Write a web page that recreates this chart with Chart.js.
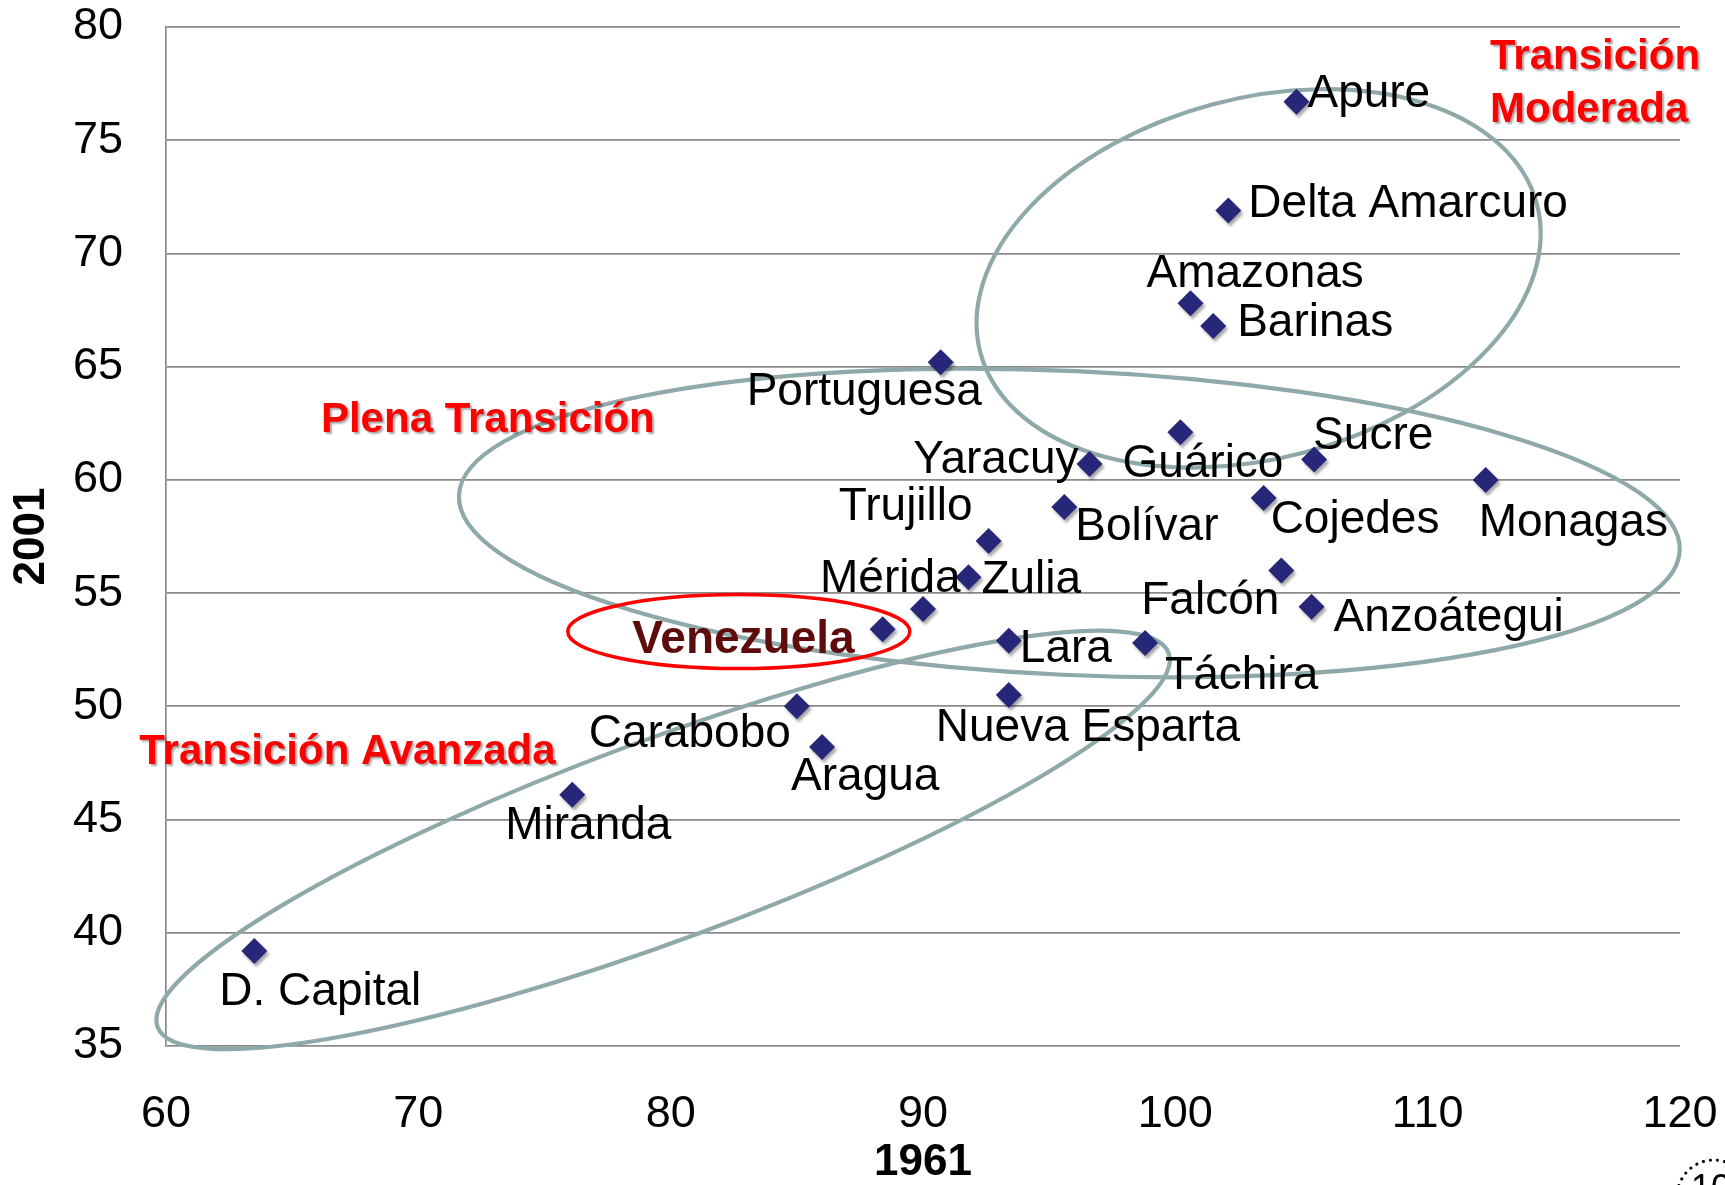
<!DOCTYPE html>
<html>
<head>
<meta charset="utf-8">
<script src="https://cdn.jsdelivr.net/npm/chart.js@4.4.1/dist/chart.umd.min.js"></script>
<style>
html,body{margin:0;padding:0;background:#fff;overflow:hidden}
canvas{display:block}
</style>
</head>
<body>
<canvas id="c" width="1725" height="1185" style="width:1725px;height:1185px"></canvas>
<script>
// ---- data ----
const states = ['Apure','Delta Amarcuro','Amazonas','Barinas','Portuguesa','Guárico','Sucre','Yaracuy','Monagas','Bolívar','Cojedes','Trujillo','Zulia','Mérida','Falcón','Anzoátegui','Venezuela','Lara','Táchira','Nueva Esparta','Carabobo','Aragua','Miranda','D. Capital'];
const values1961 = [104.8,102.1,100.6,101.5,90.7,100.2,105.5,96.6,112.3,95.6,103.5,92.6,91.8,90.0,104.2,105.4,88.4,93.4,98.8,93.4,85.0,86.0,76.1,63.5];
const values2001 = [76.7,71.9,67.8,66.8,65.2,62.1,60.9,60.7,60.0,58.8,59.2,57.3,55.7,54.3,56.0,54.4,53.4,52.9,52.8,50.5,50.0,48.2,46.1,39.2];
const xTickValues = [60,70,80,90,100,110,120];
const yTickValues = [35,40,45,50,55,60,65,70,75,80];
const xTitle = '1961';
const yTitle = '2001';
const groupLabels = [
  {text:'Transición', x:112.47, y:78.66},
  {text:'Moderada', x:112.47, y:76.32},
  {text:'Plena Transición', x:66.14, y:62.63},
  {text:'Transición Avanzada', x:58.94, y:47.98}
];
const slideNumber = '10';

// ---- styles (label offsets in px relative to the point) ----
const labelStyle = {
  'Apure':[11,-7,'left'], 'Delta Amarcuro':[20,-6,'left'], 'Amazonas':[-44,-29,'left'],
  'Barinas':[24,-3,'left'], 'Portuguesa':[-194,30,'left'], 'Guárico':[-58,32,'left'],
  'Sucre':[-1,-23,'left'], 'Yaracuy':[-11,-4,'right'], 'Monagas':[-7,43,'left'],
  'Bolívar':[11,20,'left'], 'Cojedes':[7,22,'left'], 'Trujillo':[-16,-34,'right'],
  'Zulia':[13,3,'left'], 'Mérida':[-103,-30,'left'], 'Falcón':[-2,31,'right'],
  'Anzoátegui':[22,12,'left'], 'Venezuela':[-28,11,'right'], 'Lara':[11,9,'left'],
  'Táchira':[20,33,'left'], 'Nueva Esparta':[-73,33,'left'], 'Carabobo':[-6,28,'right'],
  'Aragua':[-31,30,'left'], 'Miranda':[-67,32,'left'], 'D. Capital':[-35,41,'left']
};
const ellipses = [
  {cx:103.3, cy:68.9, rx:288, ry:180, rot:-15, color:'#8fa9aa', width:4.2},
  {cx:95.8, cy:58.1, rx:611, ry:152, rot:2.6, color:'#8fa9aa', width:4.2},
  {cx:79.7, cy:44.1, rx:539, ry:100, rot:-20.3, color:'#8fa9aa', width:4.2},
  {cx:82.7, cy:53.3, rx:171, ry:37, rot:0, color:'#ff0000', width:3.5}
];
const FONT = '"Liberation Sans", Arial, Helvetica, sans-serif';

const annotPlugin = {
  id: 'annot',
  beforeDatasetsDraw(chart) {
    const {ctx, scales:{x, y}} = chart;
    ctx.save();
    ellipses.forEach(e => {
      ctx.beginPath();
      ctx.strokeStyle = e.color;
      ctx.lineWidth = e.width;
      ctx.ellipse(x.getPixelForValue(e.cx), y.getPixelForValue(e.cy), e.rx, e.ry, e.rot*Math.PI/180, 0, 2*Math.PI);
      ctx.stroke();
    });
    ctx.restore();
  },
  beforeDatasetDraw(chart) {
    const ctx = chart.ctx;
    ctx.save();
    ctx.shadowColor = 'rgba(0,0,0,0.35)';
    ctx.shadowOffsetX = 2;
    ctx.shadowOffsetY = 3;
    ctx.shadowBlur = 3;
  },
  afterDatasetDraw(chart) {
    chart.ctx.restore();
  },
  afterDatasetsDraw(chart) {
    const {ctx, scales:{x, y}} = chart;
    const meta = chart.getDatasetMeta(0);
    ctx.save();
    ctx.textBaseline = 'middle';
    meta.data.forEach((pt, i) => {
      const name = states[i];
      const st = labelStyle[name] || [10,0,'left'];
      if (name === 'Venezuela') {
        ctx.font = 'bold 46px ' + FONT;
        ctx.fillStyle = '#5e0b0b';
      } else {
        ctx.font = '46px ' + FONT;
        ctx.fillStyle = '#000000';
      }
      ctx.textAlign = st[2];
      ctx.fillText(name, pt.x + st[0], pt.y + st[1]);
    });
    // group labels
    ctx.font = 'bold 42px ' + FONT;
    ctx.fillStyle = '#ff0000';
    ctx.textAlign = 'left';
    ctx.shadowColor = 'rgba(0,0,0,0.35)';
    ctx.shadowOffsetX = 2;
    ctx.shadowOffsetY = 2;
    ctx.shadowBlur = 2;
    groupLabels.forEach(g => {
      ctx.fillText(g.text, x.getPixelForValue(g.x), y.getPixelForValue(g.y));
    });
    ctx.restore();
    // slide number badge (partially visible at the bottom edge)
    ctx.save();
    ctx.strokeStyle = '#000';
    ctx.lineWidth = 3;
    ctx.lineCap = 'round';
    ctx.setLineDash([0.1, 7]);
    ctx.beginPath();
    ctx.arc(1714, 1197, 37, 0, 2*Math.PI);
    ctx.stroke();
    ctx.setLineDash([]);
    ctx.fillStyle = '#000';
    ctx.font = '36px ' + FONT;
    ctx.textAlign = 'left';
    ctx.textBaseline = 'top';
    ctx.fillText(slideNumber, 1691, 1172);
    ctx.restore();
  }
};

new Chart(document.getElementById('c'), {
  type: 'scatter',
  data: {
    datasets: [{
      label: 'Estados',
      data: states.map((s, i) => ({x: values1961[i], y: values2001[i]})),
      pointStyle: 'rectRot',
      pointRadius: 13,
      pointHoverRadius: 13,
      backgroundColor: '#27277a',
      borderColor: '#27277a',
      borderWidth: 0
    }]
  },
  options: {
    responsive: false,
    animation: false,
    devicePixelRatio: 1,
    layout: { padding: { top: 27, right: 45, left: 0, bottom: 0 } },
    plugins: {
      legend: { display: false },
      tooltip: { enabled: false },
      title: { display: false }
    },
    scales: {
      x: {
        type: 'linear',
        min: 60, max: 120,
        afterBuildTicks: s => { s.ticks = xTickValues.map(v => ({value: v})); },
        afterFit: s => { s.height = 139; s.paddingLeft = 0; s.paddingRight = 0; },
        grid: { display: false, drawTicks: false },
        border: { display: false },
        ticks: { color: '#000', font: { family: FONT, size: 45 }, padding: 42, maxRotation: 0 },
        title: { display: true, text: xTitle, color: '#000', font: { family: FONT, size: 44, weight: 'bold', lineHeight: 1 }, padding: { top: 0, bottom: 0 } }
      },
      y: {
        type: 'linear',
        min: 35, max: 80,
        afterBuildTicks: s => { s.ticks = yTickValues.map(v => ({value: v})); },
        afterFit: s => { s.width = 166; s.paddingTop = 0; s.paddingBottom = 0; },
        grid: { color: '#8a8a8a', lineWidth: 1.7, drawTicks: false },
        border: { display: true, color: '#8a8a8a', width: 1.7 },
        ticks: { color: '#000', font: { family: FONT, size: 45 }, padding: 43 },
        title: { display: true, text: yTitle, color: '#000', font: { family: FONT, size: 44, weight: 'bold', lineHeight: 1 }, padding: { top: 10, bottom: 0 } }
      }
    }
  },
  plugins: [annotPlugin]
});
</script>
</body>
</html>
